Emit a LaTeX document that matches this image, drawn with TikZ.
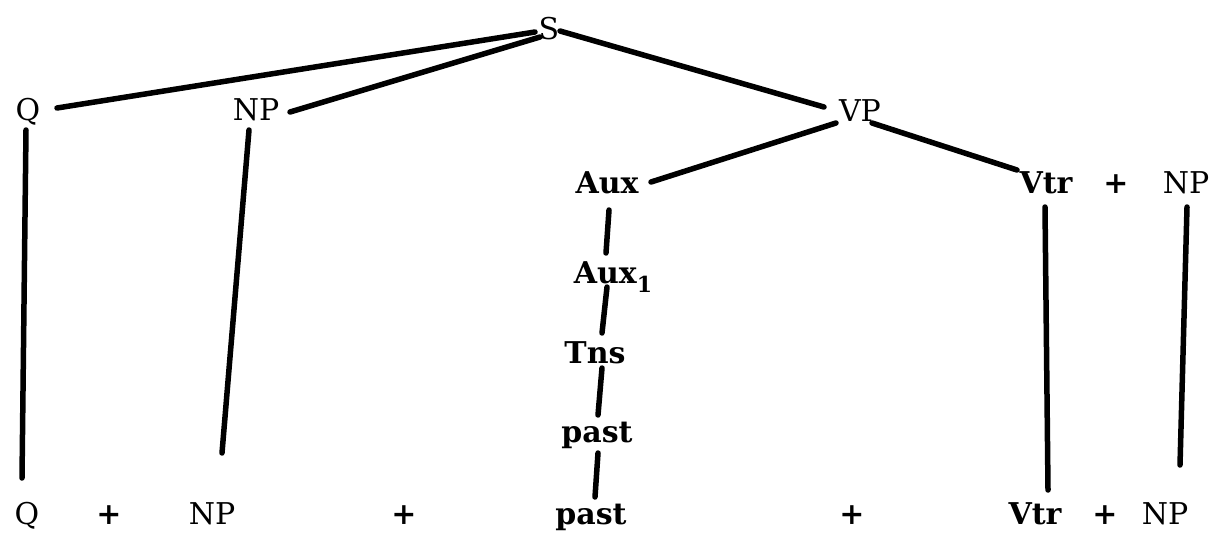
\documentclass[tikz,border=0pt]{standalone}
\usepackage{fontspec}
\setmainfont{DejaVu Serif}
\usetikzlibrary{calc}
\begin{document}
\begin{tikzpicture}[x=1pt,y=-1pt,
  lab/.style={anchor=base,inner sep=0pt,font=\fontsize{30}{36}\selectfont},
  blab/.style={anchor=base,inner sep=0pt,font=\fontsize{30}{36}\selectfont\bfseries},
  br/.style={line width=5.5pt,line cap=round,line join=round}]
\useasboundingbox (0,0) rectangle (1217,533);
% top
\node[lab] (S) at (549,39) {S};
\node[lab] (Q) at (28,120) {Q};
\node[lab] (NPa) at (256,120) {NP};
\node[lab] (VP) at (860,121) {VP};
% second row
\node[blab] (Aux) at (607,193) {Aux};
\node[blab] (Vtr) at (1046,193) {Vtr};
\node[blab] (plusa) at (1116,193) {+};
\node[lab] (NPb) at (1186,193) {NP};
% column
\node[blab] (Auxi) at (613,283) {Aux\raisebox{-9pt}{\fontsize{22}{22}\selectfont 1}};
\node[blab] (Tns) at (595,363) {Tns};
\node[blab] (pasta) at (597,442) {past};
% bottom
\node[lab] (Qb) at (27,524) {Q};
\node[blab] (plusb) at (109,524) {+};
\node[lab] (NPc) at (212,524) {NP};
\node[blab] (plusc) at (404,524) {+};
\node[blab] (pastb) at (591,524) {past};
\node[blab] (plusd) at (852,524) {+};
\node[blab] (Vtrb) at (1035,524) {Vtr};
\node[blab] (pluse) at (1105,524) {+};
\node[lab] (NPd) at (1165,524) {NP};
% branches
\draw[br] ($(Q.base)+(29,-12)$) -- ($(S.base)+(-14,-7)$);
\draw[br] ($(NPa.base)+(34,-8)$) -- ($(S.base)+(-9,-2)$);
\draw[br] ($(S.base)+(11,-8)$) -- ($(VP.base)+(-36,-14)$);
\draw[br] ($(VP.base)+(-24,2)$) -- ($(Aux.base)+(44,-11)$);
\draw[br] ($(VP.base)+(12,2)$) -- ($(Vtr.base)+(-29,-23)$);
\draw[br] ($(Q.base)+(-2,10)$) -- ($(Qb.base)+(-5,-46)$);
\draw[br] ($(NPa.base)+(-7,10)$) -- ($(NPc.base)+(10,-71)$);
\draw[br] ($(Aux.base)+(2,17)$) -- ($(Auxi.base)+(-7,-30)$);
\draw[br] ($(Auxi.base)+(-6,4)$) -- ($(Tns.base)+(7,-30)$);
\draw[br] ($(Tns.base)+(7,5)$) -- ($(pasta.base)+(1,-27)$);
\draw[br] ($(pasta.base)+(1,11)$) -- ($(pastb.base)+(4,-27)$);
\draw[br] ($(Vtr.base)+(-1,14)$) -- ($(Vtrb.base)+(13,-34)$);
\draw[br] ($(NPb.base)+(1,14)$) -- ($(NPd.base)+(15,-59)$);
\end{tikzpicture}
\end{document}
